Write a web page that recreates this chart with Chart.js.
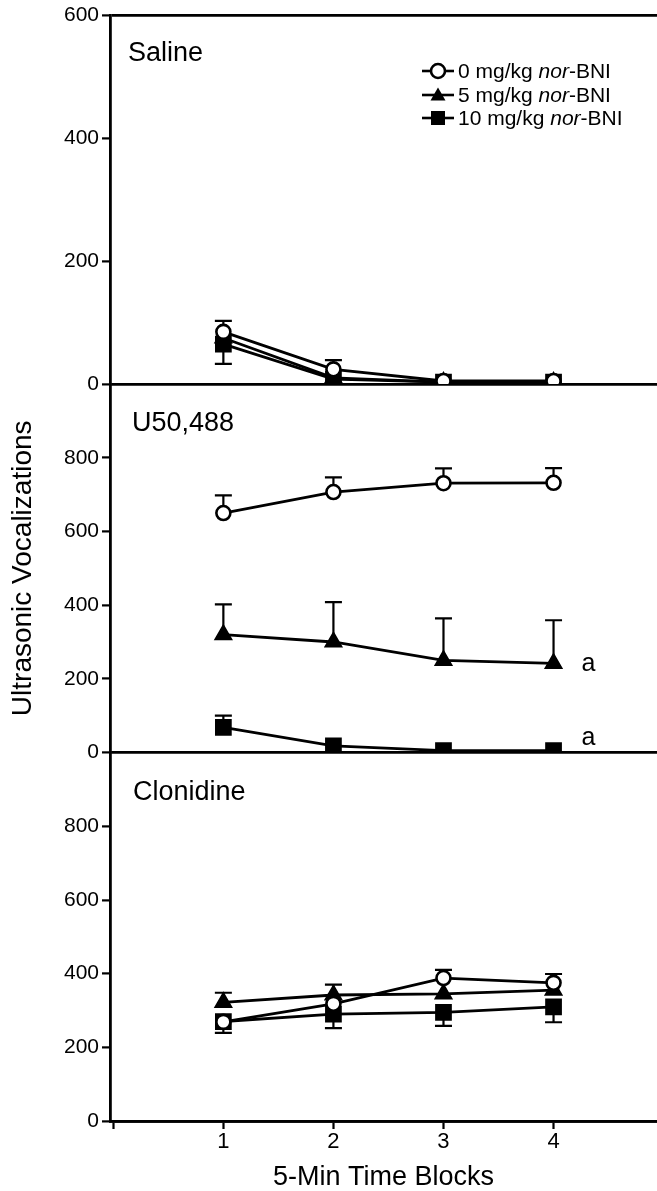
<!DOCTYPE html>
<html>
<head>
<meta charset="utf-8">
<script src="https://cdn.jsdelivr.net/npm/chart.js@4"></script>
<style>
  html, body { margin: 0; padding: 0; background: #fff; }
  #wrap { position: relative; width: 657px; height: 1191px; }
  #chart { position: absolute; left: 0; top: 0; }
  .panel-title { position: absolute; font: 27px "Liberation Sans", Arial, sans-serif; line-height: 27px; color: #000; white-space: nowrap; }
  #legend { position: absolute; left: 422px; top: 59px; font: 21px "Liberation Sans", Arial, sans-serif; color: #000; }
  #legend .row { position: absolute; left: 0; height: 24px; line-height: 24px; white-space: nowrap; display: flex; align-items: center; }
  #legend svg { display: block; margin-right: 4px; }
</style>
</head>
<body>
<div id="wrap">
  <canvas id="chart" width="657" height="1191"></canvas>
  <div id="legend"></div>
</div>
<script>
// ---- data ----
const blocks = [1, 2, 3, 4];
const panels = ["Saline", "U50,488", "Clonidine"];
const doses = ["0 mg/kg", "5 mg/kg", "10 mg/kg"];
const xTicks = [0, 1, 2, 3, 4];
const salineTicks = [0, 200, 400, 600];
const drugTicks = [0, 200, 400, 600, 800];

// means; SEM is signed: + drawn upward, - drawn downward, 0 = not shown
const saline0 = [85, 24, 5, 5];
const saline0Err = [18, 15, 0, 0];
const saline5 = [75, 10, 3, 3];
const saline5Err = [0, 0, 0, 0];
const saline10 = [65, 8, 3, 3];
const saline10Err = [-32, 0, 0, 0];

const u50_0 = [650, 707, 731, 732];
const u50_0Err = [48, 40, 40, 40];
const u50_5 = [320, 300, 250, 242];
const u50_5Err = [82, 108, 114, 117];
const u50_10 = [68, 18, 5, 5];
const u50_10Err = [32, 0, 0, 0];

const clon0 = [269, 318, 388, 375];
const clon0Err = [-30, 52, 22, 24];
const clon5 = [322, 342, 345, 355];
const clon5Err = [26, 0, 0, 0];
const clon10 = [270, 290, 295, 310];
const clon10Err = [0, -38, -37, -42];

// significance marks ("a") next to block 4
const sigMarks = [
  { axis: "y2", value: u50_5[3], text: "a", dy: 1 },
  { axis: "y2", value: u50_10[3], text: "a", dy: -13 },
];

const FONT = '"Liberation Sans", Arial, sans-serif';
const markers = [
  { pointStyle: "circle", radius: 7, fill: "#fff" },
  { pointStyle: "triangle", radius: 8.5, fill: "#000" },
  { pointStyle: "rect", radius: 10, fill: "#000" },
];

function series(values, errors, dose, axis) {
  const m = markers[dose];
  return {
    label: panels[["y1", "y2", "y3"].indexOf(axis)] + " " + doses[dose],
    data: blocks.map((b, i) => ({ x: b, y: values[i] })),
    errors: errors,
    yAxisID: axis,
    borderColor: "#000",
    borderWidth: 2.8,
    pointStyle: m.pointStyle,
    pointRadius: m.radius,
    pointHoverRadius: m.radius,
    pointBackgroundColor: m.fill,
    pointBorderColor: "#000",
    pointBorderWidth: 2.6,
    fill: false,
    tension: 0,
  };
}

const datasets = [
  series(saline0, saline0Err, 0, "y1"),
  series(saline5, saline5Err, 1, "y1"),
  series(saline10, saline10Err, 2, "y1"),
  series(u50_0, u50_0Err, 0, "y2"),
  series(u50_5, u50_5Err, 1, "y2"),
  series(u50_10, u50_10Err, 2, "y2"),
  series(clon0, clon0Err, 0, "y3"),
  series(clon5, clon5Err, 1, "y3"),
  series(clon10, clon10Err, 2, "y3"),
];

// error bars drawn from the scales, under the markers
const errorBars = {
  id: "errorBars",
  beforeDatasetsDraw(chart) {
    const ctx = chart.ctx;
    const xs = chart.scales.x;
    ctx.save();
    ctx.strokeStyle = "#000";
    ctx.lineWidth = 2.2;
    chart.data.datasets.forEach((ds) => {
      const ys = chart.scales[ds.yAxisID];
      ds.data.forEach((p, i) => {
        const e = ds.errors[i];
        if (!e) return;
        const px = xs.getPixelForValue(p.x);
        const y0 = ys.getPixelForValue(p.y);
        const y1 = ys.getPixelForValue(p.y + e);
        ctx.beginPath();
        ctx.moveTo(px, y0);
        ctx.lineTo(px, y1);
        ctx.moveTo(px - 8.5, y1);
        ctx.lineTo(px + 8.5, y1);
        ctx.stroke();
      });
    });
    ctx.restore();
  },
  afterDatasetsDraw(chart) {
    const ctx = chart.ctx;
    const xs = chart.scales.x;
    ctx.save();
    ctx.fillStyle = "#000";
    ctx.font = "25px " + FONT;
    ctx.textBaseline = "middle";
    sigMarks.forEach((m) => {
      const px = xs.getPixelForValue(blocks[blocks.length - 1]) + 28;
      const py = chart.scales[m.axis].getPixelForValue(m.value) + m.dy;
      ctx.fillText(m.text, px, py);
    });
    ctx.restore();
  },
};

function yAxis(max, ticks, topLine, title) {
  return {
    type: "linear",
    position: "left",
    stack: "panels",
    stackWeight: 1,
    min: 0,
    max: max,
    afterBuildTicks: (s) => { s.ticks = ticks.map((v) => ({ value: v })); },
    afterFit: (s) => { s.width = 110; },
    ticks: { color: "#000", font: { family: FONT, size: 21 }, padding: 3 },
    grid: {
      color: (c) => (c.tick && (c.tick.value === 0 || c.tick.value === topLine)) ? "#000" : "rgba(0,0,0,0)",
      lineWidth: 2.8,
      tickColor: "#000",
      tickLength: 8,
      tickWidth: 2.2,
    },
    border: { display: true, color: "#000", width: 2.8 },
    title: title
      ? { display: true, text: title, color: "#000", font: { family: FONT, size: 28, lineHeight: 1 }, padding: { top: 9, bottom: 0 } }
      : { display: false },
  };
}

new Chart(document.getElementById("chart"), {
  type: "line",
  data: { datasets },
  options: {
    responsive: false,
    animation: false,
    layout: { autoPadding: false, padding: { top: 15, left: 0, right: 0, bottom: 0 } },
    plugins: { legend: { display: false }, tooltip: { enabled: false } },
    scales: {
      x: {
        type: "linear",
        min: -0.03,
        max: 4.94,
        afterBuildTicks: (s) => { s.ticks = xTicks.map((v) => ({ value: v })); },
        afterFit: (s) => { s.height = 70; },
        ticks: {
          color: "#000",
          font: { family: FONT, size: 22 },
          padding: 0,
          maxRotation: 0,
          callback: (v) => (blocks.includes(v) ? String(v) : ""),
        },
        grid: { drawOnChartArea: false, color: "#000", tickLength: 8, tickWidth: 2.2 },
        border: { display: true, color: "#000", width: 2.8 },
        title: { display: true, text: "5-Min Time Blocks", color: "#000", font: { family: FONT, size: 27, lineHeight: 1 }, padding: 0 },
      },
      // stacked left axes are laid out last-defined on top
      y3: yAxis(1000, drugTicks, null, null),
      y2: yAxis(1000, drugTicks, null, "Ultrasonic Vocalizations"),
      y1: yAxis(600, salineTicks, 600, null),
    },
  },
  plugins: [errorBars],
});

// panel labels and legend
const wrap = document.getElementById("wrap");
const titlePos = [[128, 39], [132, 409], [133, 778]];
panels.forEach((name, i) => {
  const d = document.createElement("div");
  d.className = "panel-title";
  d.textContent = name;
  d.style.left = titlePos[i][0] + "px";
  d.style.top = titlePos[i][1] + "px";
  wrap.appendChild(d);
});

const legendIcons = [
  '<circle cx="16" cy="12" r="7" fill="#fff" stroke="#000" stroke-width="2.6"/>',
  '<polygon points="16,4.5 23.5,17.5 8.5,17.5" fill="#000"/>',
  '<rect x="9" y="5" width="14" height="14" fill="#000"/>',
];
const legend = document.getElementById("legend");
doses.forEach((dose, i) => {
  const row = document.createElement("div");
  row.className = "row";
  row.style.top = (i * 23.5) + "px";
  row.innerHTML =
    '<svg width="32" height="24"><line x1="0" y1="12" x2="32" y2="12" stroke="#000" stroke-width="2.6"/>' +
    legendIcons[i] + "</svg><span>" + dose + " <i>nor</i>-BNI</span>";
  legend.appendChild(row);
});
</script>
</body>
</html>
